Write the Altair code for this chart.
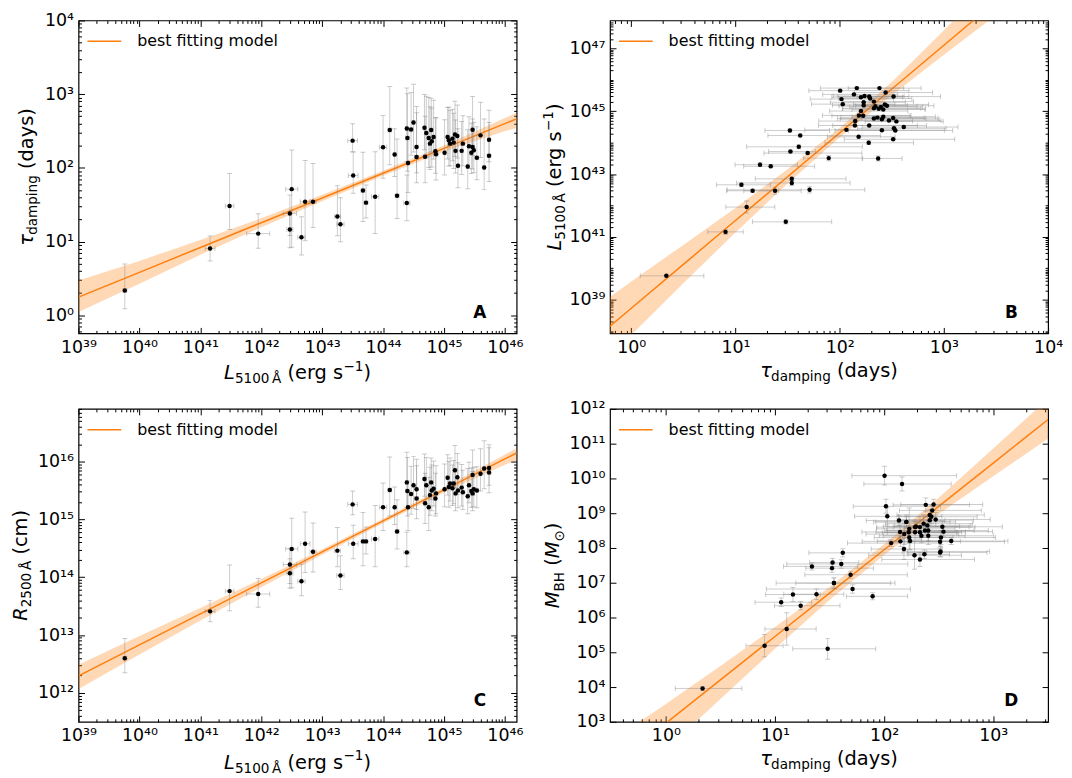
import math
import altair as alt
import pandas as pd

FONT = "DejaVu Sans"
ORANGE = "#ff7f0e"
W, H = 441, 315
LEG = "best fitting model"

# ---------------- values (one entry per AGN) ----------------
logL = [39.76, 41.16, 41.48, 41.95, 42.47, 42.47, 42.50, 42.66, 42.72, 42.85,
        43.25, 43.30, 43.50, 43.51, 43.67, 43.72, 43.87, 44.00, 44.11, 44.19,
        44.23, 44.39, 44.39, 44.46, 44.50, 44.40, 44.55, 44.41, 44.55, 44.68,
        44.71, 44.79, 44.75, 44.77, 44.69, 44.80, 44.83, 44.86, 44.87, 45.01,
        45.06, 45.08, 45.14, 45.18, 45.22, 45.10, 45.16, 45.19, 45.29, 45.31,
        45.23, 45.41, 45.47, 45.47, 45.45, 45.49, 45.39, 45.54, 45.60, 45.66,
        45.74, 45.74]
L_err = [0.03, 0.08, 0.07, 0.19, 0.11, 0.05, 0.10, 0.06, 0.08, 0.05,
         0.05, 0.06, 0.08, 0.08, 0.03, 0.03, 0.06, 0.06, 0.03, 0.02,
         0.03, 0.05, 0.02, 0.03, 0.02, 0.03, 0.02, 0.02, 0.03, 0.02,
         0.02, 0.03, 0.02, 0.02, 0.03, 0.02, 0.02, 0.02, 0.03, 0.02,
         0.02, 0.03, 0.02, 0.02, 0.02, 0.03, 0.02, 0.02, 0.02, 0.03,
         0.02, 0.02, 0.02, 0.03, 0.02, 0.02, 0.02, 0.03, 0.02, 0.02,
         0.02, 0.03]
tau = [2.17, 8.03, 30.4, 12.8, 24.0, 14.6, 51.4, 11.4, 34.7, 34.7,
       21.8, 17.2, 234, 78.5, 49.3, 33.7, 40.5, 190, 326, 152,
       41.8, 33.3, 342, 332, 412, 254, 192, 116, 140, 350,
       297, 326, 254, 213, 141, 230, 262, 168, 153, 160,
       262, 237, 249, 284, 271, 213, 220, 170, 170, 213,
       107, 196, 329, 192, 160, 173, 104, 137, 276, 101,
       241, 146]
tau_up = [0.36, 0.17, 0.44, 0.27, 0.25, 0.25, 0.53, 0.28, 0.56, 0.52,
          0.42, 0.36, 0.23, 0.32, 0.52, 0.24, 0.61, 0.43, 0.59, 0.35,
          0.77, 0.38, 0.55, 0.50, 0.52, 0.60, 0.55, 0.45, 0.60, 0.45,
          0.50, 0.43, 0.55, 0.50, 0.55, 0.45, 0.50, 0.45, 0.50, 0.45,
          0.40, 0.45, 0.40, 0.45, 0.42, 0.45, 0.40, 0.42, 0.40, 0.38,
          0.50, 0.40, 0.45, 0.38, 0.40, 0.38, 0.50, 0.42, 0.45, 0.66,
          0.40, 0.45]
tau_dn = [0.25, 0.17, 0.32, 0.20, 0.30, 0.25, 0.79, 0.24, 0.53, 0.35,
          0.26, 0.24, 0.15, 0.24, 0.42, 0.21, 0.50, 0.42, 0.47, 0.30,
          0.31, 0.24, 0.45, 0.35, 0.40, 0.45, 0.35, 0.40, 0.35, 0.30,
          0.33, 0.30, 0.40, 0.35, 0.35, 0.35, 0.30, 0.30, 0.35, 0.30,
          0.30, 0.35, 0.30, 0.30, 0.30, 0.30, 0.35, 0.30, 0.32, 0.30,
          0.30, 0.30, 0.35, 0.30, 0.28, 0.30, 0.30, 0.30, 0.30, 0.30,
          0.30, 0.35]
logR = [12.60, 13.41, 13.76, 13.71, 14.22, 14.07, 14.49, 13.93, 14.58, 14.44,
        14.46, 14.03, 15.26, 14.58, 14.62, 14.62, 14.66, 15.21, 15.51, 15.21,
        14.79, 14.43, 15.64, 15.44, 15.59, 15.49, 15.52, 15.21, 15.36, 15.70,
        15.59, 15.64, 15.21, 15.42, 15.28, 15.50, 15.53, 15.36, 15.45, 15.52,
        15.72, 15.56, 15.54, 15.85, 15.73, 15.62, 15.62, 15.45, 15.55, 15.47,
        15.50, 15.59, 15.77, 15.45, 15.49, 15.52, 15.40, 15.50, 15.79, 15.88,
        15.89, 15.81]
R_up = [0.34, 0.19, 0.45, 0.27, 0.28, 0.25, 0.53, 0.30, 0.55, 0.50,
        0.40, 0.34, 0.23, 0.32, 0.50, 0.25, 0.58, 0.42, 0.57, 0.35,
        0.55, 0.35, 0.52, 0.48, 0.50, 0.58, 0.52, 0.45, 0.57, 0.43,
        0.48, 0.42, 0.52, 0.48, 0.52, 0.44, 0.48, 0.44, 0.48, 0.44,
        0.40, 0.44, 0.40, 0.43, 0.41, 0.44, 0.40, 0.41, 0.40, 0.38,
        0.48, 0.40, 0.43, 0.38, 0.40, 0.38, 0.48, 0.41, 0.43, 0.48,
        0.40, 0.43]
R_dn = [0.25, 0.18, 0.34, 0.23, 0.33, 0.26, 0.67, 0.25, 0.50, 0.35,
        0.28, 0.24, 0.18, 0.26, 0.42, 0.22, 0.48, 0.40, 0.45, 0.30,
        0.30, 0.25, 0.43, 0.35, 0.40, 0.43, 0.35, 0.40, 0.35, 0.30,
        0.33, 0.30, 0.40, 0.35, 0.35, 0.35, 0.30, 0.30, 0.35, 0.30,
        0.30, 0.35, 0.30, 0.30, 0.30, 0.30, 0.35, 0.30, 0.32, 0.30,
        0.30, 0.30, 0.35, 0.30, 0.28, 0.30, 0.30, 0.30, 0.30, 0.35,
        0.30, 0.35]
logM = [3.96, 5.19, 5.10, 5.67, 6.67, 6.66, 6.82, 6.44, 6.99, 6.99,
        7.47, 6.34, 7.82, 6.61, 7.23, 7.58, 7.54, 7.79, 8.18, 7.97,
        7.86, 7.42, 8.61, 8.30, 8.20, 8.35, 8.60, 8.14, 8.46, 8.47,
        8.82, 7.87, 8.50, 7.67, 8.19, 8.70, 8.95, 8.45, 8.40, 8.75,
        8.80, 8.50, 8.65, 9.25, 8.90, 8.60, 8.35, 8.55, 8.30, 8.45,
        8.91, 8.62, 7.90, 8.45, 8.75, 8.20, 9.20, 8.79, 9.08, 10.08,
        9.24, 9.84]
M_err = [0.05, 0.32, 0.30, 0.47, 0.15, 0.20, 0.12, 0.12, 0.15, 0.15,
         0.10, 0.12, 0.12, 0.10, 0.10, 0.12, 0.12, 0.40, 0.15, 0.30,
         0.12, 0.12, 0.15, 0.20, 0.10, 0.25, 0.15, 0.10, 0.20, 0.15,
         0.20, 0.12, 0.30, 0.20, 0.15, 0.25, 0.15, 0.20, 0.30, 0.20,
         0.15, 0.20, 0.25, 0.15, 0.20, 0.30, 0.20, 0.60, 0.15, 0.20,
         0.25, 0.15, 0.15, 0.20, 0.15, 0.25, 0.20, 0.15, 0.15, 0.27,
         0.20, 0.20]

# best fitting model and its band (log10 values read at grid positions)
A_grid = [39, 40, 41, 42, 43, 44, 45, 46, 46.193]
A_line = [0.246, 0.582, 0.919, 1.255, 1.591, 1.927, 2.264, 2.600, 2.665]
A_up = [0.224, 0.155, 0.10, 0.06, 0.045, 0.035, 0.04, 0.075, 0.081]
A_dn = [0.201, 0.155, 0.10, 0.06, 0.045, 0.035, 0.045, 0.10, 0.125]

B_grid = [-0.204, 0, 0.5, 1, 1.5, 2, 2.5, 3, 3.5]
B_line = [38.158, 38.728, 40.125, 41.521, 42.918, 44.314, 45.711, 47.107, 48.504]
B_up = [0.93, 0.85, 0.62, 0.40, 0.24, 0.16, 0.22, 0.48, 0.70]
B_dn = [0.90, 0.85, 0.60, 0.38, 0.22, 0.15, 0.20, 0.30, 0.44]

C_grid = [39, 40, 41, 42, 43, 44, 45, 46, 46.193]
C_line = [12.296, 12.832, 13.367, 13.903, 14.439, 14.975, 15.510, 16.046, 16.149]
C_up = [0.19, 0.15, 0.10, 0.065, 0.045, 0.035, 0.04, 0.075, 0.08]
C_dn = [0.23, 0.17, 0.115, 0.075, 0.05, 0.04, 0.045, 0.10, 0.13]

D_grid = [-0.512, 0, 0.5, 1, 1.5, 2, 2.5, 3, 3.503]
D_line = [1.683, 2.960, 4.207, 5.454, 6.701, 7.948, 9.195, 10.442, 11.696]
D_up = [0.75, 0.55, 0.40, 0.27, 0.18, 0.16, 0.25, 0.42, 0.60]
D_dn = [0.90, 0.75, 0.55, 0.35, 0.20, 0.15, 0.22, 0.38, 0.55]

# axis limits (log10)
A_xd = (39.0, 46.193)
A_yd = (-0.247, 4.0)
B_xd = (-0.204, 4.0)
B_yd = (37.926, 47.895)
C_yd = (11.5, 16.911)
D_xd = (-0.512, 3.503)
D_yd = (3.0, 12.0)

# ---------------- tables ----------------
obj = pd.DataFrame({
    "L": [10 ** v for v in logL],
    "L_lo": [10 ** (v - e) for v, e in zip(logL, L_err)],
    "L_hi": [10 ** (v + e) for v, e in zip(logL, L_err)],
    "tau": tau,
    "tau_lo": [t / 10 ** d for t, d in zip(tau, tau_dn)],
    "tau_hi": [t * 10 ** u for t, u in zip(tau, tau_up)],
    "R": [10 ** v for v in logR],
    "R_lo": [10 ** (v - d) for v, d in zip(logR, R_dn)],
    "R_hi": [10 ** (v + u) for v, u in zip(logR, R_up)],
    "M": [10 ** v for v in logM],
    "M_lo": [10 ** (v - e) for v, e in zip(logM, M_err)],
    "M_hi": [10 ** (v + e) for v, e in zip(logM, M_err)],
})


def band_frame(grid, line, up, dn):
    return pd.DataFrame({
        "x": [10 ** g for g in grid],
        "y": [10 ** v for v in line],
        "lo": [10 ** (v - d) for v, d in zip(line, dn)],
        "hi": [10 ** (v + u) for v, u in zip(line, up)],
        "name": [LEG] * len(grid),
    })


DUMMY = pd.DataFrame({"k": [0]})

# ---------------- axis helpers ----------------
SUP = str.maketrans("0123456789-", "⁰¹²³⁴⁵⁶⁷⁸⁹⁻")
E = "round(log(datum.value)/LN10)"
DEC = f"(abs(datum.value/pow(10,{E})-1)<1e-6)"


def tick_spec(lo, hi, minor=True, label_exps=None):
    vals = []
    for d in range(math.floor(lo), math.ceil(hi) + 1):
        for k in (range(1, 10) if minor else [1]):
            lv = math.log10(k) + d
            if lo - 1e-9 <= lv <= hi + 1e-9:
                vals.append(float(f"{k}e{d}"))
    if label_exps is None:
        label_exps = list(range(math.ceil(lo - 1e-9), math.floor(hi + 1e-9) + 1))
    lab = "''"
    for e in label_exps:
        lab = f"{E}=={e} ? '10{str(e).translate(SUP)}' : {lab}"
    label_expr = f"{DEC} ? ({lab}) : ''"
    maj = " || ".join(f"{E}=={e}" for e in label_exps)
    size_expr = f"({DEC} && ({maj})) ? -6 : -3"
    return vals, label_expr, size_expr


def make_axis(orient, spec, labels):
    vals, lab, size = spec
    kw = dict(orient=orient, values=vals, tickSize={"expr": size}, title=None,
              domain=False, grid=False, labels=labels, ticks=True,
              tickColor="black", tickWidth=1)
    if labels:
        kw.update(labelExpr=lab, labelFont=FONT, labelFontSize=17.5, labelColor="black",
                  labelPadding=11, labelOverlap=False, labelFlush=False)
    else:
        kw.update(minExtent=0, maxExtent=0)
    return alt.Axis(**kw)


# ---------------- text helpers (axis titles with sub/superscripts) ----------------
WID = {' ': 0.318, '\u2009': 0.2, '(': 0.390, ')': 0.390, 'a': 0.613,
       'c': 0.550, 'd': 0.635, 'e': 0.615, 'g': 0.635, 'i': 0.278, 'm': 0.974,
       'n': 0.634, 'p': 0.635, 'r': 0.411, 's': 0.521, 'y': 0.592, 'B': 0.686,
       'H': 0.752, 'L': 0.557, 'M': 0.863, 'R': 0.695, 'Å': 0.684, 'τ': 0.56,
       '−': 0.838, '⊙': 0.838}
for ch in "0123456789":
    WID[ch] = 0.636


def text_w(s, fs):
    return sum(WID.get(c, 0.6) for c in s) * fs


def title_layers(segs, ax, ay, angle=0, fs=19.5):
    """segs: (text, kind); kind 'gap' only advances by text_w of its text."""
    parts, pos = [], 0.0
    for txt, kind in segs:
        sz = fs * 0.7 if kind in ("sub", "sup") else fs
        dy = 0.22 * fs if kind == "sub" else (-0.42 * fs if kind == "sup" else 0)
        if kind != "gap":
            parts.append((txt, kind, sz, pos, dy))
        pos += text_w(txt, sz)
    total = pos
    out = []
    for txt, kind, sz, p, dy in parts:
        kw = dict(text=txt, fontSize=sz, align="left", baseline="alphabetic",
                  dx=p - total / 2, dy=dy, font=FONT, color="black")
        if kind == "i":
            kw["fontStyle"] = "italic"
        if angle:
            kw["angle"] = angle
        out.append(alt.Chart(DUMMY).mark_text(**kw).encode(x=alt.value(ax), y=alt.value(ay)))
    return out


T_L = [("L", "i"), ("5100\u2009Å", "sub"), (" ", "gap"), ("(erg s", "n"), ("−1", "sup"), (")", "n")]
T_TAU = [("τ", "i"), ("damping", "sub"), (" ", "gap"), ("(days)", "n")]
T_R = [("R", "i"), ("2500\u2009Å", "sub"), (" ", "gap"), ("(cm)", "n")]
T_M = [("M", "i"), ("BH", "sub"), (" ", "gap"), ("(", "n"), ("M", "i"), ("⊙", "sub"), (")", "n")]

LEGEND = alt.Legend(title=None, orient="none", legendX=8, legendY=3,
                    symbolType="stroke", symbolSize=1156, symbolStrokeWidth=1.5,
                    labelFont=FONT, labelFontSize=16, labelColor="black",
                    labelOffset=15, padding=0)


def panel(letter, xf, yf, xerr, yerr, band, xd, yd, xtick, ytick,
          xtitle, ytitle, xbase, ybase):
    xs = alt.Scale(type="log", domain=[10 ** xd[0], 10 ** xd[1]], nice=False)
    ys = alt.Scale(type="log", domain=[10 ** yd[0], 10 ** yd[1]], nice=False)
    xa, ya = make_axis("bottom", xtick, True), make_axis("left", ytick, True)
    xa2, ya2 = make_axis("top", xtick, False), make_axis("right", ytick, False)

    def X(f):
        return alt.X(f, type="quantitative", scale=xs, axis=xa)

    def Y(f):
        return alt.Y(f, type="quantitative", scale=ys, axis=ya)

    bar = dict(color="#808080", opacity=0.4, strokeWidth=1, clip=True)
    cap = dict(color="#808080", opacity=0.4, size=5, thickness=1, clip=True)
    layers = [
        alt.Chart(band).mark_area(color=ORANGE, opacity=0.3, clip=True).encode(
            x=X("x"), y=Y("lo"), y2="hi"),
        alt.Chart(band).mark_line(strokeWidth=1.5, clip=True).encode(
            x=X("x"), y=Y("y"),
            color=alt.Color("name:N", scale=alt.Scale(domain=[LEG], range=[ORANGE]),
                            legend=LEGEND)),
        alt.Chart(obj).mark_rule(**bar).encode(x=X(xf), y=Y(yerr[0]), y2=yerr[1]),
        alt.Chart(obj).mark_rule(**bar).encode(x=X(xerr[0]), x2=xerr[1], y=Y(yf)),
        alt.Chart(obj).mark_tick(orient="horizontal", **cap).encode(x=X(xf), y=Y(yerr[0])),
        alt.Chart(obj).mark_tick(orient="horizontal", **cap).encode(x=X(xf), y=Y(yerr[1])),
        alt.Chart(obj).mark_tick(orient="vertical", **cap).encode(x=X(xerr[0]), y=Y(yf)),
        alt.Chart(obj).mark_tick(orient="vertical", **cap).encode(x=X(xerr[1]), y=Y(yf)),
        alt.Chart(obj).mark_circle(size=20, color="black", opacity=1, clip=True).encode(
            x=X(xf), y=Y(yf)),
        alt.Chart(DUMMY).mark_text(text=letter, font=FONT, fontWeight="bold", fontSize=17,
                                   align="center", baseline="middle", color="black").encode(
            x=alt.value(W - 37), y=alt.value(H - 21)),
    ]
    layers += title_layers(xtitle, W / 2, H + xbase)
    layers += title_layers(ytitle, -ybase, H / 2, angle=270)
    main = alt.layer(*layers)
    corners = pd.DataFrame({"gx": [10 ** xd[0], 10 ** xd[1]], "gy": [10 ** yd[0], 10 ** yd[1]]})
    ghost = alt.Chart(corners).mark_point(opacity=0, clip=True).encode(
        x=alt.X("gx", type="quantitative", scale=xs, axis=xa2),
        y=alt.Y("gy", type="quantitative", scale=ys, axis=ya2))
    return alt.layer(main, ghost).resolve_scale(x="independent", y="independent").properties(
        width=W, height=H)


pA = panel("A", "L", "tau", ("L_lo", "L_hi"), ("tau_lo", "tau_hi"),
           band_frame(A_grid, A_line, A_up, A_dn), A_xd, A_yd,
           tick_spec(*A_xd), tick_spec(*A_yd), T_L, T_TAU, 46, 46)
pB = panel("B", "tau", "L", ("tau_lo", "tau_hi"), ("L_lo", "L_hi"),
           band_frame(B_grid, B_line, B_up, B_dn), B_xd, B_yd,
           tick_spec(*B_xd), tick_spec(*B_yd, label_exps=[39, 41, 43, 45, 47]),
           T_TAU, T_L, 44, 49.5)
pC = panel("C", "L", "R", ("L_lo", "L_hi"), ("R_lo", "R_hi"),
           band_frame(C_grid, C_line, C_up, C_dn), A_xd, C_yd,
           tick_spec(*A_xd), tick_spec(*C_yd), T_L, T_R, 47, 51.7)
pD = panel("D", "tau", "M", ("tau_lo", "tau_hi"), ("M_lo", "M_hi"),
           band_frame(D_grid, D_line, D_up, D_dn), D_xd, D_yd,
           tick_spec(*D_xd), tick_spec(*D_yd, minor=False), T_TAU, T_M, 43, 51)

chart = alt.concat(pA, pB, pC, pD, columns=2, spacing={"row": 76, "column": 94},
                   bounds="flush").resolve_scale(color="independent").resolve_legend(
    color="independent").properties(
    padding={"left": 2, "right": 0, "top": 0, "bottom": 0}, background="white"
).configure(font=FONT).configure_view(stroke="black", strokeWidth=1.2)

chart.save("out.html", embed_options={"renderer": "svg", "actions": False})
